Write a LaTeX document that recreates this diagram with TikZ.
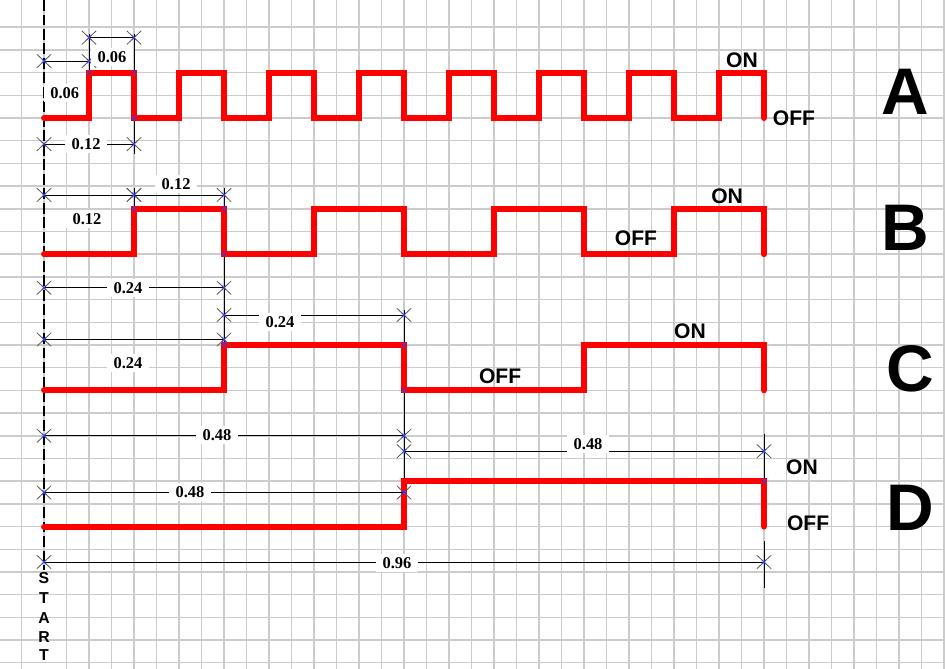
\documentclass[tikz,border=0pt]{standalone}
\usepackage{fontspec}
\setmainfont{Liberation Serif}
\newfontfamily\arialfont{Liberation Sans}
\usepackage{tikz}
\usetikzlibrary{calc}
\definecolor{markblue}{RGB}{60,60,235}
\tikzset{
  gridline/.style={black!20, line width=1.1pt},
  wave/.style={red, line width=4.5pt, line cap=round},
  extline/.style={black, line width=0.6pt},
  dimline/.style={black, line width=0.6pt},
  dimlabel/.style={fill=white, font=\bfseries\fontsize{12.5}{13}\selectfont, inner xsep=5pt, inner ysep=2.5pt},
  bluex/.style={markblue, line width=0.6pt},
  onoff/.style={font=\arialfont\bfseries\fontsize{16}{17}\selectfont, inner sep=1pt},
  signame/.style={font=\arialfont\bfseries\fontsize{50}{50}\selectfont, inner sep=0pt},
  startletter/.style={font=\arialfont\bfseries\fontsize{12}{13}\selectfont, inner sep=0pt},
  dimend/.pic={
    \draw[black!65, line width=0.6pt] (-0.32,-0.3) -- (0.32,0.3) (-0.32,0.3) -- (0.32,-0.3);
    \draw[bluex] (-0.1,-0.1) -- (0.1,0.1) (-0.1,0.1) -- (0.1,-0.1);
  },
  cornerx/.pic={
    \draw[bluex] (-0.1,-0.1) -- (0.1,0.1) (-0.1,0.1) -- (0.1,-0.1);
  },
}

\begin{document}
\begin{tikzpicture}[x=0.6cm, y=0.6053cm]
\useasboundingbox[fill=white] (-1.956,0.198) rectangle (40.044,-29.27);

\foreach \i in {-2,-1,1,2,...,40}
  \draw[gridline] (\i,0.198) -- (\i,-29.27);
\draw[gridline] (0,0.198) -- (0,-24.9);
\foreach \j in {1,...,29}
  \draw[gridline] (-1.956,-\j) -- (40.044,-\j);

\draw[black, line width=0.8pt, dash pattern=on 8pt off 3pt] (0,0.198) -- (0,-24.9);

\draw[extline] (2,-1.3) -- (2,-3);
\draw[extline] (4,-1.3) -- (4,-6.6);
\draw[extline] (4,-8.1) -- (4,-9);
\draw[extline] (8,-8.1) -- (8,-9) (8,-11) -- (8,-15);
\draw[extline] (16,-13.45) -- (16,-15) (16,-17) -- (16,-21);
\draw[extline] (32,-18.9) -- (32,-21) (32,-23.65) -- (32,-25.7);

\draw[wave] (0,-5) \foreach \i in {0,...,7} { -- (4*\i+2,-5) -- (4*\i+2,-3) -- (4*\i+4,-3) -- (4*\i+4,-5) };
\draw[wave] (0,-11) \foreach \i in {0,...,3} { -- (8*\i+4,-11) -- (8*\i+4,-9) -- (8*\i+8,-9) -- (8*\i+8,-11) };
\draw[wave] (0,-17) -- (8,-17) -- (8,-15) -- (16,-15) -- (16,-17) -- (24,-17) -- (24,-15) -- (32,-15) -- (32,-17);
\draw[wave] (0,-23) -- (16,-23) -- (16,-21) -- (32,-21) -- (32,-23);

\foreach \cx/\cy in {2/3,4/3,4/5,4/9,8/9,8/11,8/15,16/15,16/17,32/21}
  \path (\cx,-\cy) pic {cornerx};

\foreach \xa/\xb/\yy/\lx/\ly/\txt [count=\i] in {
    0/2/2.49/0.92/3.9/0.06, 2/4/1.46/3.02/2.31/0.06, 0/4/6.15/1.87/6.15/0.12,
    0/4/8.39/1.91/9.45/0.12, 4/8/8.39/5.87/7.9/0.12, 0/8/12.48/3.73/12.48/0.24,
    8/16/13.68/10.49/14.0/0.24, 0/8/14.76/3.73/15.8/0.24, 0/16/19.0/7.69/18.96/0.48,
    16/32/19.68/24.18/19.36/0.48, 0/16/21.5/6.49/21.48/0.48, 0/32/24.56/15.69/24.62/0.96} {
  \coordinate (d\i a) at (\xa,-\yy);
  \coordinate (d\i b) at (\xb,-\yy);
  \draw[dimline] (d\i a) -- (d\i b);
  \path (d\i a) pic {dimend} (d\i b) pic {dimend};
  \node[dimlabel] (len\i) at (\lx,-\ly) {\txt};
}

\node[onoff] (onA) at (31.02,-2.44) {ON};
\node[onoff] (offA) at (33.33,-5.0) {OFF};
\node[onoff] (onB) at (30.36,-8.44) {ON};
\node[onoff] (offB) at (26.31,-10.29) {OFF};
\node[onoff] (onC) at (28.71,-14.38) {ON};
\node[onoff] (offC) at (20.27,-16.37) {OFF};
\node[onoff] (onD) at (33.69,-20.37) {ON};
\node[onoff] (offD) at (33.96,-22.84) {OFF};

\node[signame] (sigA) at (38.27,-3.85) {A};
\node[signame] (sigB) at (38.27,-9.85) {B};
\node[signame] (sigC) at (38.49,-16.06) {C};
\node[signame] (sigD) at (38.49,-22.18) {D};

\foreach \ch/\ky in {S/25.26,T/26.14,A/27.03,R/27.86,T/28.66}
  \node[startletter] at (0,-\ky) {\ch};
\end{tikzpicture}
\end{document}
